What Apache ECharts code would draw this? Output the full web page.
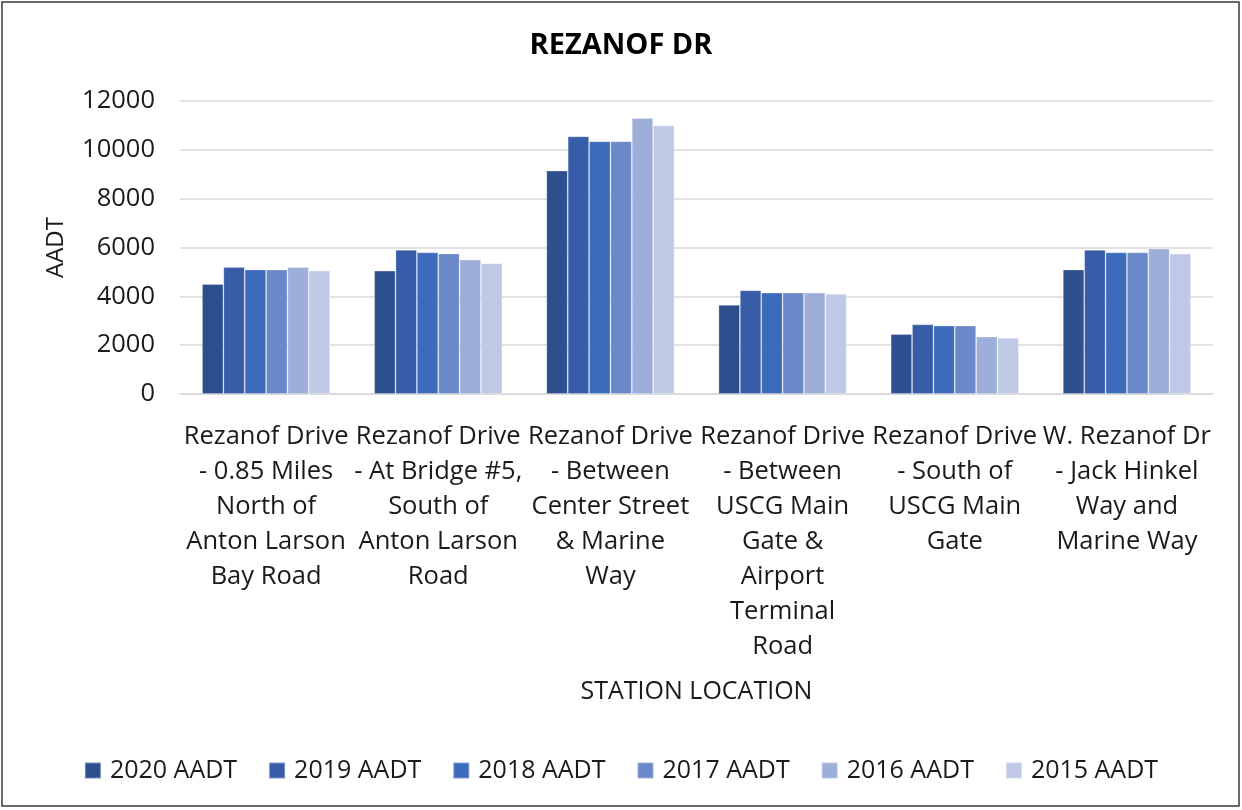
<!DOCTYPE html>
<html>
<head>
<meta charset="utf-8">
<script src="https://cdn.jsdelivr.net/npm/echarts@6/dist/echarts.min.js"></script>
<style>
html,body{margin:0;padding:0;background:#fff;}
#c{width:1242px;height:810px;}
</style>
</head>
<body>
<div id="c"></div>
<script>
const categories = [
  "Rezanof Drive\n- 0.85 Miles\nNorth of\nAnton Larson\nBay Road",
  "Rezanof Drive\n- At Bridge #5,\nSouth of\nAnton Larson\nRoad",
  "Rezanof Drive\n- Between\nCenter Street\n& Marine\nWay",
  "Rezanof Drive\n- Between\nUSCG Main\nGate &\nAirport\nTerminal\nRoad",
  "Rezanof Drive\n- South of\nUSCG Main\nGate",
  "W. Rezanof Dr\n- Jack Hinkel\nWay and\nMarine Way"
];
const seriesNames = ["2020 AADT", "2019 AADT", "2018 AADT", "2017 AADT", "2016 AADT", "2015 AADT"];
const aadt2020 = [4500, 5050, 9150, 3650, 2450, 5100];
const aadt2019 = [5200, 5900, 10550, 4250, 2850, 5900];
const aadt2018 = [5100, 5800, 10350, 4150, 2800, 5800];
const aadt2017 = [5100, 5750, 10350, 4150, 2800, 5800];
const aadt2016 = [5200, 5500, 11300, 4150, 2350, 5950];
const aadt2015 = [5050, 5350, 11000, 4100, 2300, 5750];
const colors = ["#2E4F8D", "#375DA8", "#3D6BBB", "#6B89C9", "#9DAED8", "#BFC9E5"];

const allData = [aadt2020, aadt2019, aadt2018, aadt2017, aadt2016, aadt2015];
const FONT = "'Open Sans', sans-serif";

const chart = echarts.init(document.getElementById('c'), null, {renderer: 'canvas'});
chart.setOption({
  backgroundColor: '#fff',
  color: colors,
  textStyle: {fontFamily: FONT},
  title: {
    text: 'REZANOF DR',
    left: 'center',
    top: 26,
    textStyle: {fontFamily: FONT, fontSize: 29, fontWeight: 'bold', color: '#000'}
  },
  legend: {
    bottom: 22,
    left: 'center',
    itemWidth: 16,
    itemHeight: 16,
    itemGap: 31,
    icon: 'rect',
    textStyle: {fontFamily: FONT, fontSize: 25, color: '#1a1a1a', padding: [0, 0, 0, 4]},
    data: seriesNames
  },
  grid: {left: 180, right: 29, top: 101, bottom: 416, containLabel: false},
  xAxis: {
    type: 'category',
    data: categories,
    name: 'STATION LOCATION',
    nameLocation: 'middle',
    nameGap: 285,
    nameTextStyle: {fontFamily: FONT, fontSize: 25, color: '#1a1a1a'},
    axisLine: {lineStyle: {color: '#D9D9D9', width: 1.5}},
    axisTick: {show: false},
    axisLabel: {
      interval: 0,
      margin: 25,
      fontFamily: FONT,
      fontSize: 25.5,
      lineHeight: 35,
      color: '#1a1a1a',
      align: 'center'
    }
  },
  yAxis: {
    type: 'value',
    min: 0,
    max: 12000,
    interval: 2000,
    name: 'AADT',
    nameLocation: 'middle',
    nameGap: 112,
    nameTextStyle: {fontFamily: FONT, fontSize: 24, color: '#1a1a1a'},
    axisLine: {show: false},
    axisTick: {show: false},
    axisLabel: {margin: 25, fontFamily: FONT, fontSize: 25.5, color: '#1a1a1a', formatter: v => String(v)},
    splitLine: {lineStyle: {color: '#D9D9D9', width: 1.5}}
  },
  series: seriesNames.map((n, i) => ({
    name: n,
    type: 'bar',
    data: allData[i],
    barGap: '0%',
    barCategoryGap: '25.6%',
    itemStyle: {color: colors[i], borderColor: 'rgba(255,255,255,0.35)', borderWidth: 0.8}
  })),
  graphic: [{
    type: 'rect',
    shape: {x: 2, y: 2, width: 1237, height: 804},
    style: {fill: 'none', stroke: '#3a3a3a', lineWidth: 1.5},
    silent: true
  }]
});
</script>
</body>
</html>
